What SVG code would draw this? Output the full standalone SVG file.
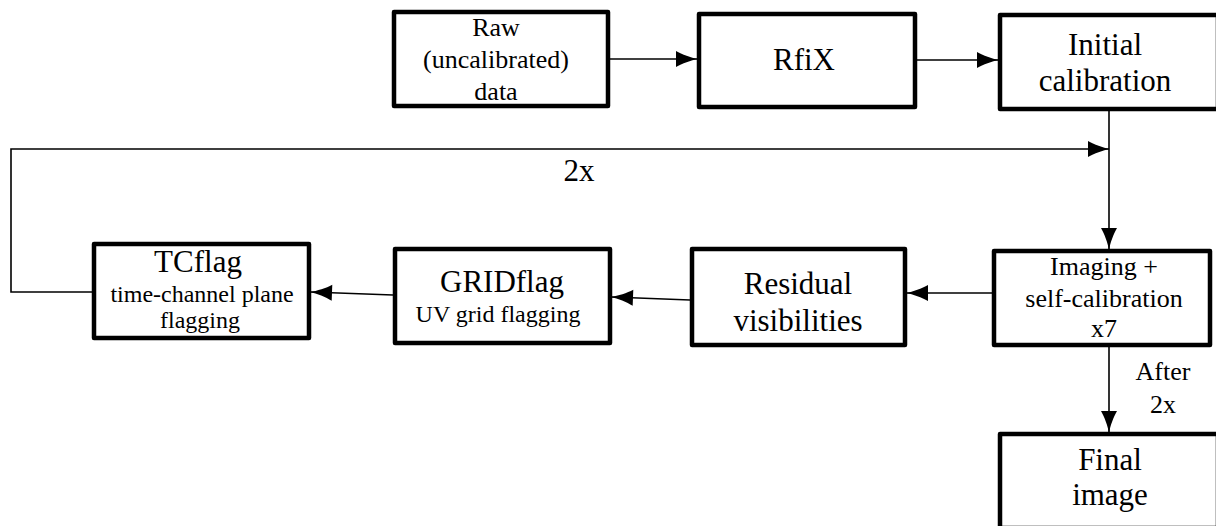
<svg xmlns="http://www.w3.org/2000/svg" width="1216" height="526" viewBox="0 0 1216 526">
<style>
text{font-family:"Liberation Serif","DejaVu Serif","Times New Roman",serif;text-anchor:middle;fill:#000}
.box{fill:#fff;stroke:#000;stroke-width:4.5;stroke-linejoin:round}
.lg{font-size:31px}
.md{font-size:26px}
.sm{font-size:24px}
.ca{fill:none;stroke:#000;stroke-width:1.6;marker-end:url(#ah)}
</style>
<defs>
<marker id="ah" markerUnits="userSpaceOnUse" markerWidth="24" markerHeight="18" refX="21" refY="8" orient="auto" overflow="visible">
<path d="M22,8 C15,6.8 6,3.5 0,0 L0,16 C6,12.5 15,9.2 22,8 Z" fill="#000"/>
</marker>
</defs>
<rect width="1216" height="526" fill="#fff"/>
<g id="connectors">
<path class="ca" d="M610,59 L697,59"/>
<path class="ca" d="M917,60 L998,60"/>
<path class="ca" d="M1109,111 L1109,249"/>
<path class="ca" d="M92,292 L11,292 L11,149 L1109,149"/>
<path class="ca" d="M992,293 L907,293"/>
<path class="ca" d="M690,300 L612,297"/>
<path class="ca" d="M393,295 L311,292"/>
<path class="ca" d="M1109,347 L1109,432"/>
<text class="lg" x="579" y="181">2x</text>
<text class="md" x="1163" y="380">After</text>
<text class="md" x="1163" y="413">2x</text>
</g>
<g id="raw">
<rect class="box" x="394" y="12" width="214" height="94"/>
<text class="md" x="496" y="36">Raw</text>
<text class="md" x="496" y="68">(uncalibrated)</text>
<text class="md" x="496" y="100">data</text>
</g>
<g id="rfix">
<rect class="box" x="699" y="14" width="216" height="93"/>
<text class="lg" x="804" y="70">RfiX</text>
</g>
<g id="initial">
<rect class="box" x="1000" y="15" width="218" height="94"/>
<text class="lg" x="1105" y="55">Initial</text>
<text class="lg" x="1105" y="91">calibration</text>
</g>
<g id="imaging">
<rect class="box" x="994" y="251" width="216" height="94"/>
<text class="md" x="1104" y="275">Imaging +</text>
<text class="md" x="1104" y="307">self-calibration</text>
<text class="md" x="1104" y="337">x7</text>
</g>
<g id="residual">
<rect class="box" x="692" y="249" width="213" height="96"/>
<text class="lg" x="798" y="294">Residual</text>
<text class="lg" x="798" y="331">visibilities</text>
</g>
<g id="gridflag">
<rect class="box" x="395" y="249" width="215" height="94"/>
<text class="lg" x="502" y="292">GRIDflag</text>
<text class="sm" x="498" y="322">UV grid flagging</text>
</g>
<g id="tcflag">
<rect class="box" x="94" y="244" width="215" height="94"/>
<text class="lg" x="198" y="272">TCflag</text>
<text class="sm" x="202" y="302">time-channel plane</text>
<text class="sm" x="200" y="328">flagging</text>
</g>
<g id="final">
<rect class="box" x="1000" y="434" width="218" height="94"/>
<text class="lg" x="1110" y="470">Final</text>
<text class="lg" x="1110" y="505">image</text>
</g>
</svg>
